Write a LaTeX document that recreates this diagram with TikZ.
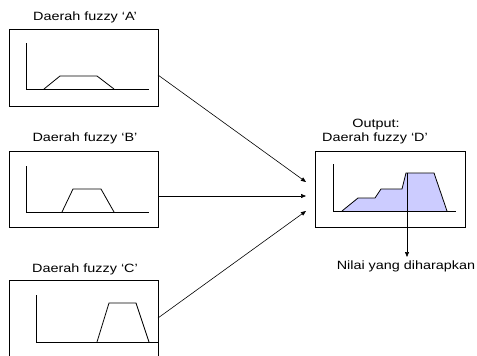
\documentclass[tikz,border=0pt]{standalone}
\usepackage{fontspec}
\setmainfont{Liberation Sans}
\usetikzlibrary{arrows.meta}
\definecolor{fuzzfill}{HTML}{CCCCFF}
\tikzset{
  panel/.style={draw=black, line width=0.8pt, fill=white},
  curve/.style={draw=black, line width=0.8pt},
  lbl/.style={font=\fontsize{12}{13}\selectfont, inner sep=0pt, anchor=center},
  conn/.style={draw=black, line width=0.6pt, -{Triangle[length=5pt,width=4pt]}},
}
\newcommand{\wtxt}[1]{\scalebox{1.2}[1]{#1}}
\begin{document}
\begin{tikzpicture}[x=1pt,y=-1pt]
\useasboundingbox (0,0) rectangle (477,356);
\clip (0,0) rectangle (477,356);
% Box A
\node[lbl] (tA) at (85,17) {\wtxt{Daerah fuzzy ‘A’}};
\draw[panel] (9,29) rectangle (158,106);
\coordinate (Aout) at (158,75);
\draw[curve] (26,43) -- (26,89) -- (149,89);
\draw[curve] (44,89) -- (60,76) -- (97,76) -- (114,89);
% Box B
\node[lbl] (tB) at (85,138) {\wtxt{Daerah fuzzy ‘B’}};
\draw[panel] (9,151) rectangle (158,227);
\coordinate (Bout) at (158,196);
\draw[curve] (26,166) -- (26,212) -- (149,212);
\draw[curve] (62,212) -- (73,189) -- (101,189) -- (114,212);
% Box C
\node[lbl] (tC) at (85,269) {\wtxt{Daerah fuzzy ‘C’}};
\draw[panel] (9,280) rectangle (158,370);
\coordinate (Cout) at (158,318);
\draw[curve] (36,295) -- (36,342) -- (158,342);
\draw[curve] (97,342) -- (109,303) -- (136,303) -- (149,342);
% Box D
\node[lbl] (tO) at (376,125) {\wtxt{Output:}};
\node[lbl] (tD) at (375,138) {\wtxt{Daerah fuzzy ‘D’}};
\draw[panel] (315,151) rectangle (465,227);
\fill[fuzzfill] (342,211) -- (358,198) -- (375,198) -- (381,189) -- (402,189) -- (406,173) -- (434,173) -- (447,211) -- cycle;
\draw[curve] (333,164) -- (333,211) -- (456,211);
\draw[curve] (342,211) -- (358,198) -- (375,198) -- (381,189) -- (402,189) -- (406,173) -- (434,173) -- (447,211);
\coordinate (Din1) at (306,182);
\coordinate (Din2) at (306,196);
\coordinate (Din3) at (306,211);
\coordinate (top) at (407,173);
\coordinate (res) at (407,257);
\node[lbl] (tR) at (406,266) {\wtxt{Nilai yang diharapkan}};
% connectors
\draw[conn] (Aout) -- (Din1);
\draw[conn] (Bout) -- (Din2);
\draw[conn] (Cout) -- (Din3);
\draw[conn] (top) -- (res);
\end{tikzpicture}
\end{document}
